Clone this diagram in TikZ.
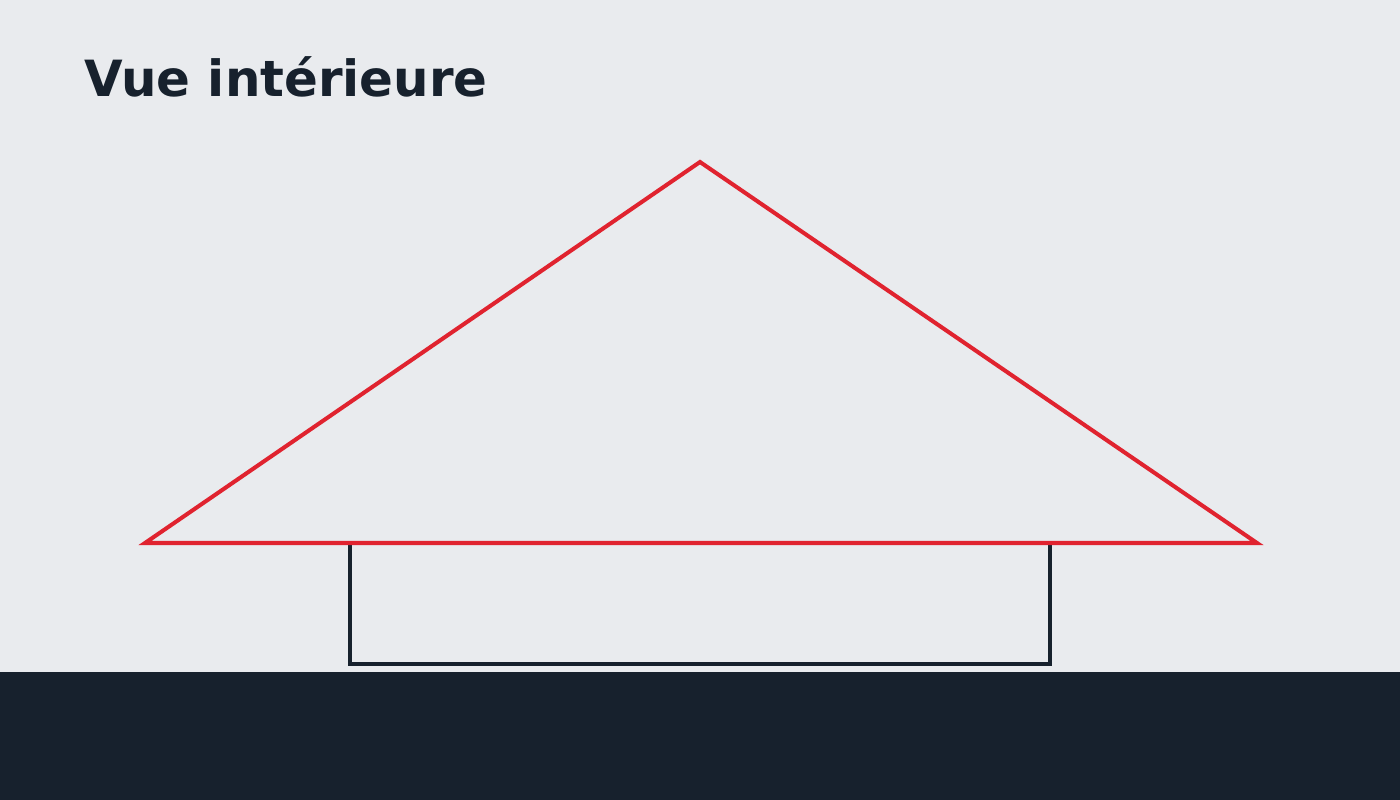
\documentclass[tikz,border=0pt]{standalone}
\usepackage{fontspec}
\setmainfont{DejaVu Sans}
\definecolor{fond}{HTML}{E9EBEE}
\definecolor{sombre}{HTML}{17212D}
\definecolor{rouge}{HTML}{E0232F}
\begin{document}
\begin{tikzpicture}[x=0.02cm, y=-0.02cm]
        \useasboundingbox (0, 0) rectangle (1400, 800);
        \fill[fond] (0, 0) rectangle (1400, 672);
        \fill[sombre] (0, 672) rectangle (1400, 800);
        \node[anchor=base west, inner sep=0pt, text=sombre, font=\fontsize{28.4}{34}\selectfont\bfseries] (titre) at (84, 97){Vue intérieure};
        % le toit
        \coordinate (g) at (145, 543);
        \coordinate (s) at (700, 162);
        \coordinate (d) at (1257, 543);
        % la piece
        \draw[sombre, line width=1.8pt] (350, 543) -- (350, 664) -- (1050, 664) -- (1050, 543);
        \draw[rouge, line width=2.3pt, line join=miter] (g) -- (s) -- (d) -- cycle;
    \end{tikzpicture}
\end{document}
